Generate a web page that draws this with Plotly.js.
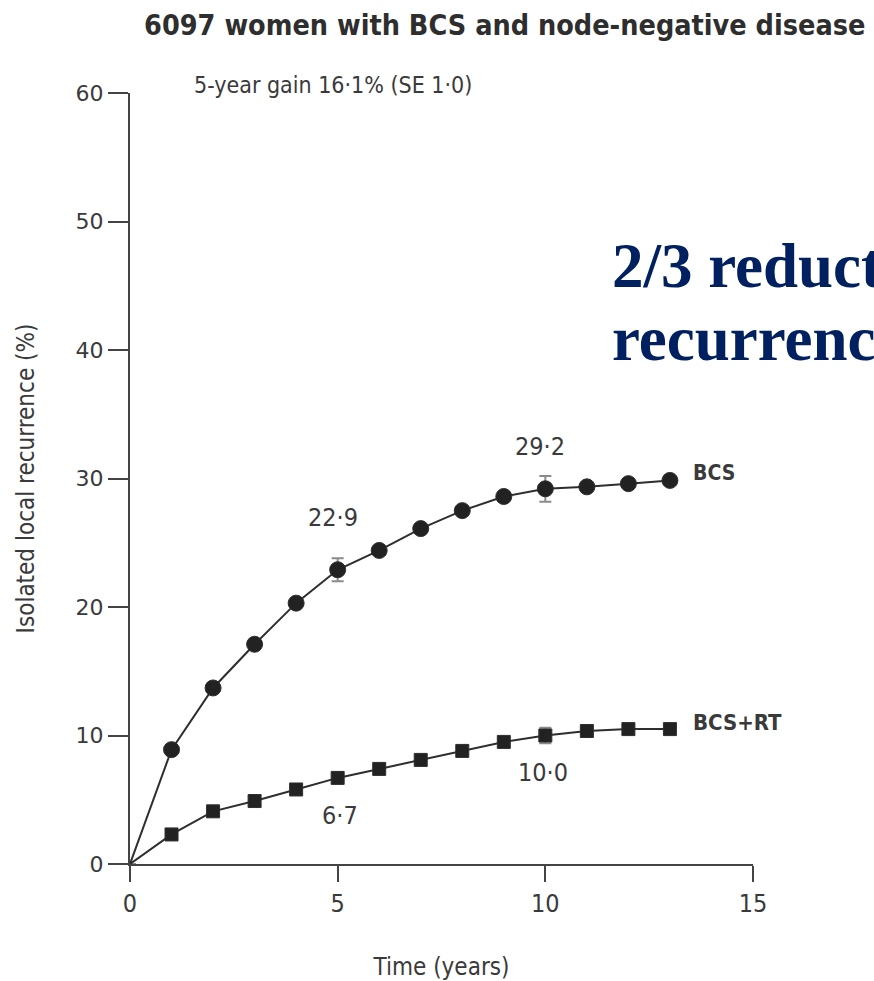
<!DOCTYPE html>
<html>
<head>
<meta charset="utf-8">
<script src="https://cdn.plot.ly/plotly-3.0.1.min.js"></script>
<style>html,body{margin:0;padding:0;background:#fff;}#chart{width:874px;height:981px;}</style>
</head>
<body>
<div id="chart"></div>
<script>
// Data
const years = [0, 1, 2, 3, 4, 5, 6, 7, 8, 9, 10, 11, 12, 13];
const bcs = [0, 8.9, 13.7, 17.1, 20.3, 22.9, 24.4, 26.1, 27.5, 28.6, 29.2, 29.35, 29.6, 29.85];
const bcsSE = [0, 0, 0, 0, 0, 0.9, 0, 0, 0, 0, 1.0, 0, 0, 0];
const bcsRT = [0, 2.3, 4.1, 4.9, 5.8, 6.7, 7.4, 8.1, 8.8, 9.5, 10.0, 10.35, 10.5, 10.5];
const bcsRTSE = [0, 0, 0, 0, 0, 0.4, 0, 0, 0, 0, 0.6, 0, 0, 0];
const seriesNames = ["BCS", "BCS+RT"];
const valueLabels = [
  {x: 5, y: 22.9, text: "22·9"},
  {x: 10, y: 29.2, text: "29·2"},
  {x: 5, y: 6.7, text: "6·7"},
  {x: 10, y: 10.0, text: "10·0"}
];
const xTicks = [0, 5, 10, 15];
const yTicks = [0, 10, 20, 30, 40, 50, 60];
const titleText = "6097 women with BCS and node-negative disease";
const gainText = "5-year gain 16·1% (SE 1·0)";
const calloutLines = ["2/3 reduction in local", "recurrence"];

const cond = "'DejaVu Sans Condensed', 'Liberation Sans Narrow', sans-serif";
const wide = "'DejaVu Sans', Verdana, sans-serif";
const txtColor = "#3a3a3a";
const markOn = years.map((y, i) => i === 0 ? 0 : 1);

const traces = [
  {
    x: years, y: bcs, name: seriesNames[0], type: "scatter", mode: "lines+markers",
    line: {color: "#2e2e2e", width: 2},
    marker: {symbol: "circle", color: "#222", opacity: 1, size: markOn.map(s => s * 16)},
    error_y: {type: "data", array: bcsSE, visible: true, color: "#8a8a8a", thickness: 2, width: 6},
    showlegend: false, hoverinfo: "skip"
  },
  {
    x: years, y: bcsRT, name: seriesNames[1], type: "scatter", mode: "lines+markers",
    line: {color: "#2e2e2e", width: 2},
    marker: {symbol: "square", color: "#222", opacity: 1, size: markOn.map(s => s * 13)},
    error_y: {type: "data", array: bcsRTSE, visible: true, color: "#8a8a8a", thickness: 2, width: 6},
    showlegend: false, hoverinfo: "skip"
  }
];

const annotations = [];
const labelShifts = [[-5, 52], [-5, 42], [2, -38], [-2, -37]];
valueLabels.forEach((v, i) => {
  annotations.push({
    x: v.x, y: v.y, xref: "x", yref: "y", text: v.text, showarrow: false,
    xshift: labelShifts[i][0], yshift: labelShifts[i][1],
    font: {family: cond, size: 25, color: txtColor}
  });
});
annotations.push({
  x: 13, y: bcs[bcs.length - 1], xref: "x", yref: "y", text: "<b>" + seriesNames[0] + "</b>",
  showarrow: false, xanchor: "left", xshift: 21, yshift: 7,
  font: {family: cond, size: 21, color: txtColor}
});
annotations.push({
  x: 13, y: bcsRT[bcsRT.length - 1], xref: "x", yref: "y", text: "<b>" + seriesNames[1] + "</b>",
  showarrow: false, xanchor: "left", xshift: 21, yshift: 7,
  font: {family: cond, size: 22, color: txtColor}
});
annotations.push({
  x: 1.5, y: 60, xref: "x", yref: "y", text: gainText, showarrow: false,
  xanchor: "left", yanchor: "middle", yshift: 8,
  font: {family: cond, size: 23, color: txtColor}
});
const calloutY = [0.7756, 0.681];
calloutLines.forEach((t, i) => {
  annotations.push({
    x: 0.7705, y: calloutY[i], xref: "paper", yref: "paper", text: "<b>" + t + "</b>",
    showarrow: false, xanchor: "left", yanchor: "middle", align: "left",
    font: {family: "'Liberation Serif', 'Times New Roman', serif", size: 63, color: "#002060"}
  });
});

const layout = {
  width: 874, height: 981,
  paper_bgcolor: "#fff", plot_bgcolor: "#fff",
  margin: {l: 130, r: 121, t: 93, b: 117, autoexpand: false},
  title: {
    text: "<b>" + titleText + "</b>", x: 0.5775, xanchor: "center", y: 0.974, yanchor: "middle",
    font: {family: cond, size: 28.5, color: "#2e2e2e"}
  },
  xaxis: {
    range: [0, 15], tickvals: xTicks, ticktext: xTicks.map(String),
    showline: true, linecolor: "#444", linewidth: 2, ticks: "outside", ticklen: 16, tickwidth: 2, tickcolor: "#444",
    showgrid: false, zeroline: false,
    tickfont: {family: cond, size: 25, color: txtColor},
    title: {text: "Time (years)", font: {family: cond, size: 24, color: txtColor}, standoff: 44}
  },
  yaxis: {
    range: [0, 60], tickvals: yTicks, ticktext: yTicks.map(String),
    showline: true, linecolor: "#444", linewidth: 2, ticks: "outside", ticklen: 20, tickwidth: 2, tickcolor: "#444",
    showgrid: false, zeroline: false,
    tickfont: {family: wide, size: 22, color: txtColor},
    title: {text: "Isolated local recurrence (%)", font: {family: cond, size: 24, color: txtColor}, standoff: 34}
  },
  annotations: annotations
};

Plotly.newPlot("chart", traces, layout, {displayModeBar: false, staticPlot: true});
</script>
</body>
</html>
